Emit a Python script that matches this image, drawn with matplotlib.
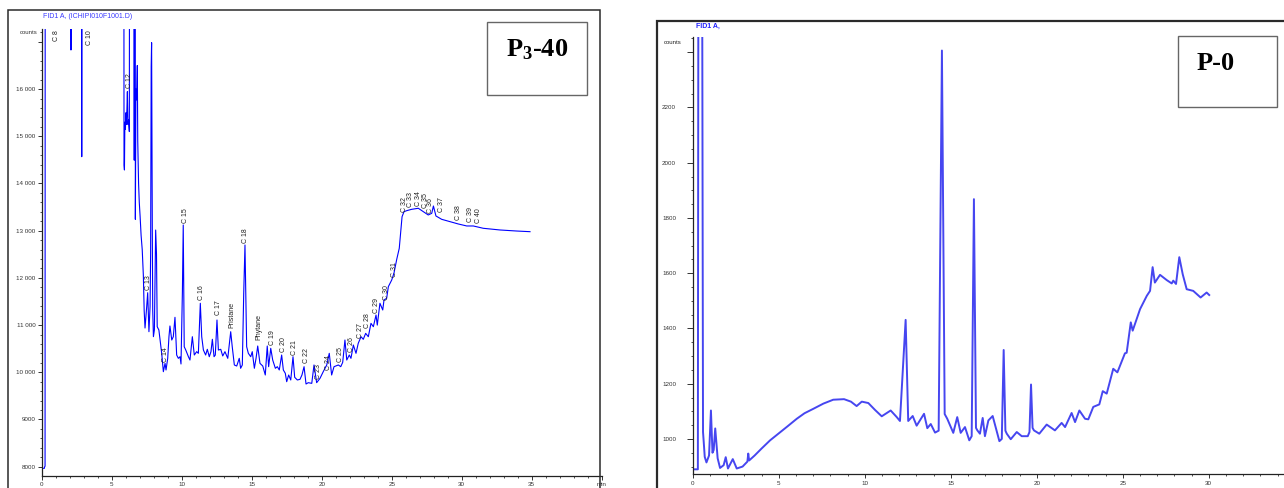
import matplotlib
matplotlib.use('Agg')
import matplotlib.pyplot as plt
from matplotlib.patches import Rectangle
from matplotlib.ticker import MultipleLocator

plt.rcParams['mathtext.fontset'] = 'custom'
plt.rcParams['mathtext.rm'] = 'Liberation Serif:bold'
plt.rcParams['mathtext.bf'] = 'Liberation Serif:bold'
plt.rcParams['mathtext.default'] = 'bf'

# ---------------- DATA ----------------
OFF = 30000  # off-scale (above the plotted range)

left_time = [0.00, 0.19, 0.21, 0.24, 0.26, 2.05, 2.09, 2.13, 2.83, 2.86, 2.89, 5.85,
             5.88, 5.91, 5.94, 5.98, 6.02, 6.05, 6.09, 6.12, 6.16, 6.20, 6.26, 6.30,
             6.58, 6.61, 6.64, 6.67, 6.69, 6.73, 6.78, 6.83, 6.86, 6.92, 6.97, 7.03,
             7.10, 7.18, 7.26, 7.32, 7.38, 7.50, 7.57, 7.66, 7.74, 7.78, 7.82, 7.85,
             7.90, 7.93, 7.98, 8.05, 8.14, 8.20, 8.25, 8.37, 8.57, 8.69, 8.81, 8.88,
             9.00, 9.09, 9.16, 9.29, 9.40, 9.52, 9.64, 9.76, 9.88, 9.95, 10.05, 10.11,
             10.18, 10.29, 10.48, 10.59, 10.76, 10.90, 11.07, 11.19, 11.33, 11.43, 11.55, 11.71,
             11.83, 11.97, 12.09, 12.19, 12.31, 12.40, 12.52, 12.62, 12.79, 12.93, 13.09, 13.29,
             13.50, 13.61, 13.76, 13.93, 14.11, 14.21, 14.33, 14.43, 14.52, 14.64, 14.76, 14.93,
             15.04, 15.19, 15.31, 15.43, 15.59, 15.79, 15.97, 16.11, 16.21, 16.36, 16.50, 16.69,
             16.83, 16.97, 17.14, 17.26, 17.40, 17.50, 17.64, 17.79, 17.95, 18.07, 18.26, 18.45,
             18.59, 18.74, 18.88, 19.04, 19.29, 19.45, 19.64, 19.88, 20.11, 20.36, 20.54, 20.71,
             20.88, 21.19, 21.36, 21.50, 21.66, 21.79, 21.97, 22.09, 22.26, 22.45, 22.61, 22.81,
             22.97, 23.14, 23.33, 23.52, 23.69, 23.88, 23.97, 24.16, 24.36, 24.45, 24.64, 24.76,
             25.00, 25.16, 25.36, 25.54, 25.66, 25.74, 25.88, 26.07, 26.43, 26.90, 27.26, 27.61,
             27.86, 27.98, 28.16, 28.57, 29.16, 29.76, 30.36, 30.83, 31.54, 32.74, 33.93, 34.88]
left_counts = [7966, 7966, 8000, 8010, OFF, OFF, 16828, OFF, OFF, 14568, OFF, OFF,
               14392, 14286, 15300, 15150, 15500, 15250, 15600, 15945, 15250, 15350, 15100, OFF,
               OFF, 14494, OFF, OFF, 13241, 16000, 15770, 16500, 14900, 14000, 13600, 13300,
               12900, 12600, 12058, 11300, 10938, 11390, 11686, 10860, 11390, 12500, 16474, 16983,
               13000, 11320, 10755, 10900, 13014, 12500, 10966, 10896, 10403, 10013, 10190, 10049,
               10296, 10754, 10981, 10684, 10754, 11165, 10366, 10296, 10330, 10176, 11708, 13121,
               10542, 10472, 10330, 10260, 10754, 10366, 10437, 10402, 11462, 10754, 10472, 10366,
               10487, 10330, 10437, 10699, 10330, 10366, 11108, 10472, 10487, 10346, 10437, 10296,
               10860, 10542, 10155, 10133, 10296, 10085, 10155, 11673, 12697, 10542, 10402, 10330,
               10437, 10085, 10296, 10557, 10190, 10133, 9943, 10557, 10119, 10508, 10260, 10085,
               10119, 10049, 10366, 10049, 9979, 9801, 9943, 9837, 10330, 9894, 9837, 9851,
               9943, 10119, 9752, 9780, 9766, 10155, 9780, 9873, 10013, 10155, 10402, 9943,
               10119, 10155, 10119, 10211, 10684, 10260, 10366, 10296, 10578, 10402, 10614, 10754,
               10699, 10825, 10754, 11037, 10966, 11214, 11000, 11462, 11320, 11532, 11568, 11814,
               11955, 12097, 12394, 12627, 13015, 13297, 13403, 13424, 13453, 13475, 13403, 13333,
               13368, 13523, 13312, 13241, 13191, 13142, 13100, 13100, 13051, 13015, 12993, 12979]

left_labels = ['C 8', 'C 10', 'C 12', 'C 13', 'C 14', 'C 15', 'C 16', 'C 17', 'Pristane',
               'C 18', 'Phytane', 'C 19', 'C 20', 'C 21', 'C 22', 'C 23', 'C 24', 'C 25',
               'C 26', 'C 27', 'C 28', 'C 29', 'C 30', 'C 31', 'C 32', 'C 33', 'C 34',
               'C 35', 'C 36', 'C 37', 'C 38', 'C 39', 'C 40']
left_label_time = [1.09, 3.38, 6.24, 7.66, 8.86, 10.24, 11.43, 12.61, 13.61, 14.57, 15.54,
                   16.47, 17.26, 18.04, 18.88, 19.76, 20.47, 21.31, 22.14, 22.79, 23.29,
                   23.88, 24.64, 25.19, 25.88, 26.36, 26.95, 27.43, 27.79, 28.57, 29.76,
                   30.62, 31.22]
left_label_counts = [17020, 16930, 16023, 11744, 10218, 13163, 11531, 11214, 10939, 12740,
                     10683, 10578, 10430, 10366, 10197, 9858, 10049, 10218, 10430, 10727,
                     10939, 11256, 11532, 12019, 13392, 13498, 13519, 13481, 13375, 13392,
                     13226, 13184, 13163]

left_yticks = [8000, 9000, 10000, 11000, 12000, 13000, 14000, 15000, 16000, 17000]
left_ytick_labels = ['8000', '9000', '10 000', '11 000', '12 000', '13 000', '14 000',
                     '15 000', '16 000', '']
left_xticks = [0, 5, 10, 15, 20, 25, 30, 35, 40]
left_xtick_labels = ['0', '5', '10', '15', '20', '25', '30', '35', 'min']

right_time = [0.00, 0.30, 0.33, 0.55, 0.60, 0.64, 0.70, 0.80, 0.95, 1.06, 1.15, 1.22,
              1.31, 1.45, 1.59, 1.80, 1.92, 2.05, 2.33, 2.56, 2.90, 3.18, 3.23, 3.28,
              3.60, 4.00, 4.50, 4.98, 5.50, 6.05, 6.50, 7.01, 7.60, 8.17, 8.80, 9.20,
              9.53, 9.83, 10.21, 10.60, 10.99, 11.51, 11.85, 12.05, 12.38, 12.53, 12.79, 13.02,
              13.45, 13.64, 13.84, 14.09, 14.30, 14.49, 14.65, 14.80, 15.15, 15.38, 15.58, 15.83,
              16.08, 16.22, 16.35, 16.47, 16.55, 16.70, 16.86, 16.99, 17.19, 17.44, 17.83, 17.97,
              18.08, 18.18, 18.26, 18.49, 18.84, 19.13, 19.48, 19.58, 19.67, 19.76, 19.84, 20.15,
              20.58, 21.06, 21.45, 21.65, 22.03, 22.23, 22.48, 22.81, 23.00, 23.29, 23.64, 23.84,
              24.07, 24.45, 24.69, 25.13, 25.23, 25.47, 25.58, 26.01, 26.40, 26.59, 26.74, 26.87,
              27.17, 27.56, 27.85, 27.94, 28.10, 28.29, 28.49, 28.72, 29.10, 29.53, 29.88, 30.03]
right_counts = [890, 890, 2700, 2700, 1025, 990, 935, 915, 940, 1103, 950, 960,
                1038, 930, 895, 905, 934, 893, 927, 893, 900, 918, 947, 922,
                940, 965, 995, 1019, 1045, 1073, 1093, 1109, 1128, 1142, 1144, 1135,
                1119, 1135, 1130, 1105, 1082, 1103, 1080, 1065, 1431, 1065, 1083, 1048,
                1091, 1039, 1054, 1023, 1030, 2406, 1090, 1073, 1022, 1079, 1022, 1043,
                995, 1010, 1868, 1040, 1031, 1019, 1076, 1010, 1067, 1083, 992, 1000,
                1322, 1030, 1019, 999, 1025, 1010, 1010, 1025, 1197, 1040, 1031, 1019,
                1052, 1031, 1058, 1043, 1094, 1061, 1103, 1073, 1071, 1116, 1125, 1173,
                1164, 1254, 1241, 1310, 1312, 1422, 1392, 1470, 1518, 1536, 1622, 1566,
                1594, 1575, 1563, 1573, 1561, 1658, 1596, 1542, 1536, 1512, 1530, 1521]

right_yticks = [1000, 1200, 1400, 1600, 1800, 2000, 2200, 2400]
right_ytick_labels = ['1000', '1200', '1400', '1600', '1800', '2000', '2200', '']
right_xticks = [0, 5, 10, 15, 20, 25, 30, 35]
right_xtick_labels = ['0', '5', '10', '15', '20', '25', '30', '']

left_title = 'FID1 A, (ICHIPI010F1001.D)'
right_title = 'FID1 A,'
left_tag = r'P$_{3}$-40'
right_tag = 'P-0'

# ---------------- LAYOUT ----------------
W, H = 1284, 488
fig = plt.figure(figsize=(W / 100, H / 100), dpi=100)


def fx(px):
    return px / W


def fy(py):
    return 1 - py / H


def frame(x0, y0, x1, y1, ec, lw):
    fig.add_artist(Rectangle((fx(x0), fy(y1)), fx(x1 - x0), (y1 - y0) / H, fill=False,
                             transform=fig.transFigure, ec=ec, lw=lw, clip_on=False))


# outer frames
frame(8, 10, 600, 700, '#2a2a2a', 1.1)
frame(657, 20.5, 1500, 700, '#2a2a2a', 1.6)

tick_color = '#333333'


def style_axes(ax):
    for s in ['top', 'right']:
        ax.spines[s].set_visible(False)
    for s in ['left', 'bottom']:
        ax.spines[s].set_color('#222222')
        ax.spines[s].set_linewidth(0.9)
    ax.tick_params(axis='both', which='major', direction='out', length=3, width=0.7,
                   labelsize=4.5, pad=1.5, colors=tick_color)
    ax.tick_params(axis='both', which='minor', direction='out', length=1.6, width=0.6,
                   colors=tick_color)
    for lab in ax.get_xticklabels() + ax.get_yticklabels():
        lab.set_fontfamily('Liberation Sans')


# ---- left chromatogram ----
axL = fig.add_axes([fx(41.7), fy(476), fx(601.7 - 41.7), (476 - 29) / H])
axL.plot(left_time, left_counts, color='#0000ff', lw=0.8)
axL.set_xlim(0, 40)
axL.set_ylim(7803, 17273)
axL.set_yticks(left_yticks)
axL.set_yticklabels(left_ytick_labels)
axL.set_xticks(left_xticks)
axL.set_xticklabels(left_xtick_labels)
axL.xaxis.set_minor_locator(MultipleLocator(1))
axL.yaxis.set_minor_locator(MultipleLocator(200))
style_axes(axL)
for lab, t, c in zip(left_labels, left_label_time, left_label_counts):
    axL.text(t, c, lab, rotation=90, ha='center', va='bottom', fontsize=5,
             family='Liberation Sans', color='#222222')
fig.text(fx(37), fy(33), 'counts', ha='right', va='center', fontsize=4.3,
         family='Liberation Sans', color=tick_color)
fig.text(fx(43), fy(16), left_title, ha='left', va='center', fontsize=5,
         family='Liberation Sans', color='#3a3aff')

# ---- right chromatogram ----
axR = fig.add_axes([fx(692.7), fy(474.3), fx(17.2 * 35), (474.3 - 37) / H])
axR.plot(right_time, right_counts, color='#4646f0', lw=1.4)
axR.set_xlim(0, 35)
axR.set_ylim(872, 2455)
axR.set_yticks(right_yticks)
axR.set_yticklabels(right_ytick_labels)
axR.set_xticks(right_xticks)
axR.set_xticklabels(right_xtick_labels)
axR.xaxis.set_minor_locator(MultipleLocator(1))
axR.yaxis.set_minor_locator(MultipleLocator(50))
style_axes(axR)
axR.tick_params(axis='y', which='major', length=4, pad=8)
fig.text(fx(682), fy(42), 'counts', ha='right', va='center', fontsize=4.3,
         family='Liberation Sans', color='#222222')
fig.text(fx(696), fy(26), right_title, ha='left', va='center', fontsize=5,
         family='Liberation Sans', color='#2020ff', fontweight='bold')

# ---- sample tags ----
frame(487, 22, 587, 95, '#666666', 1.0)
fig.text(fx(537), fy(50), left_tag, ha='center', va='center', fontsize=19,
         family='Liberation Serif', fontweight='bold', color='black')
frame(1177.7, 36, 1276.7, 107.3, '#666666', 1.0)
fig.text(fx(1197), fy(63), right_tag, ha='left', va='center', fontsize=19,
         family='Liberation Serif', fontweight='bold', color='black')

fig.savefig('out.png', dpi=100)
